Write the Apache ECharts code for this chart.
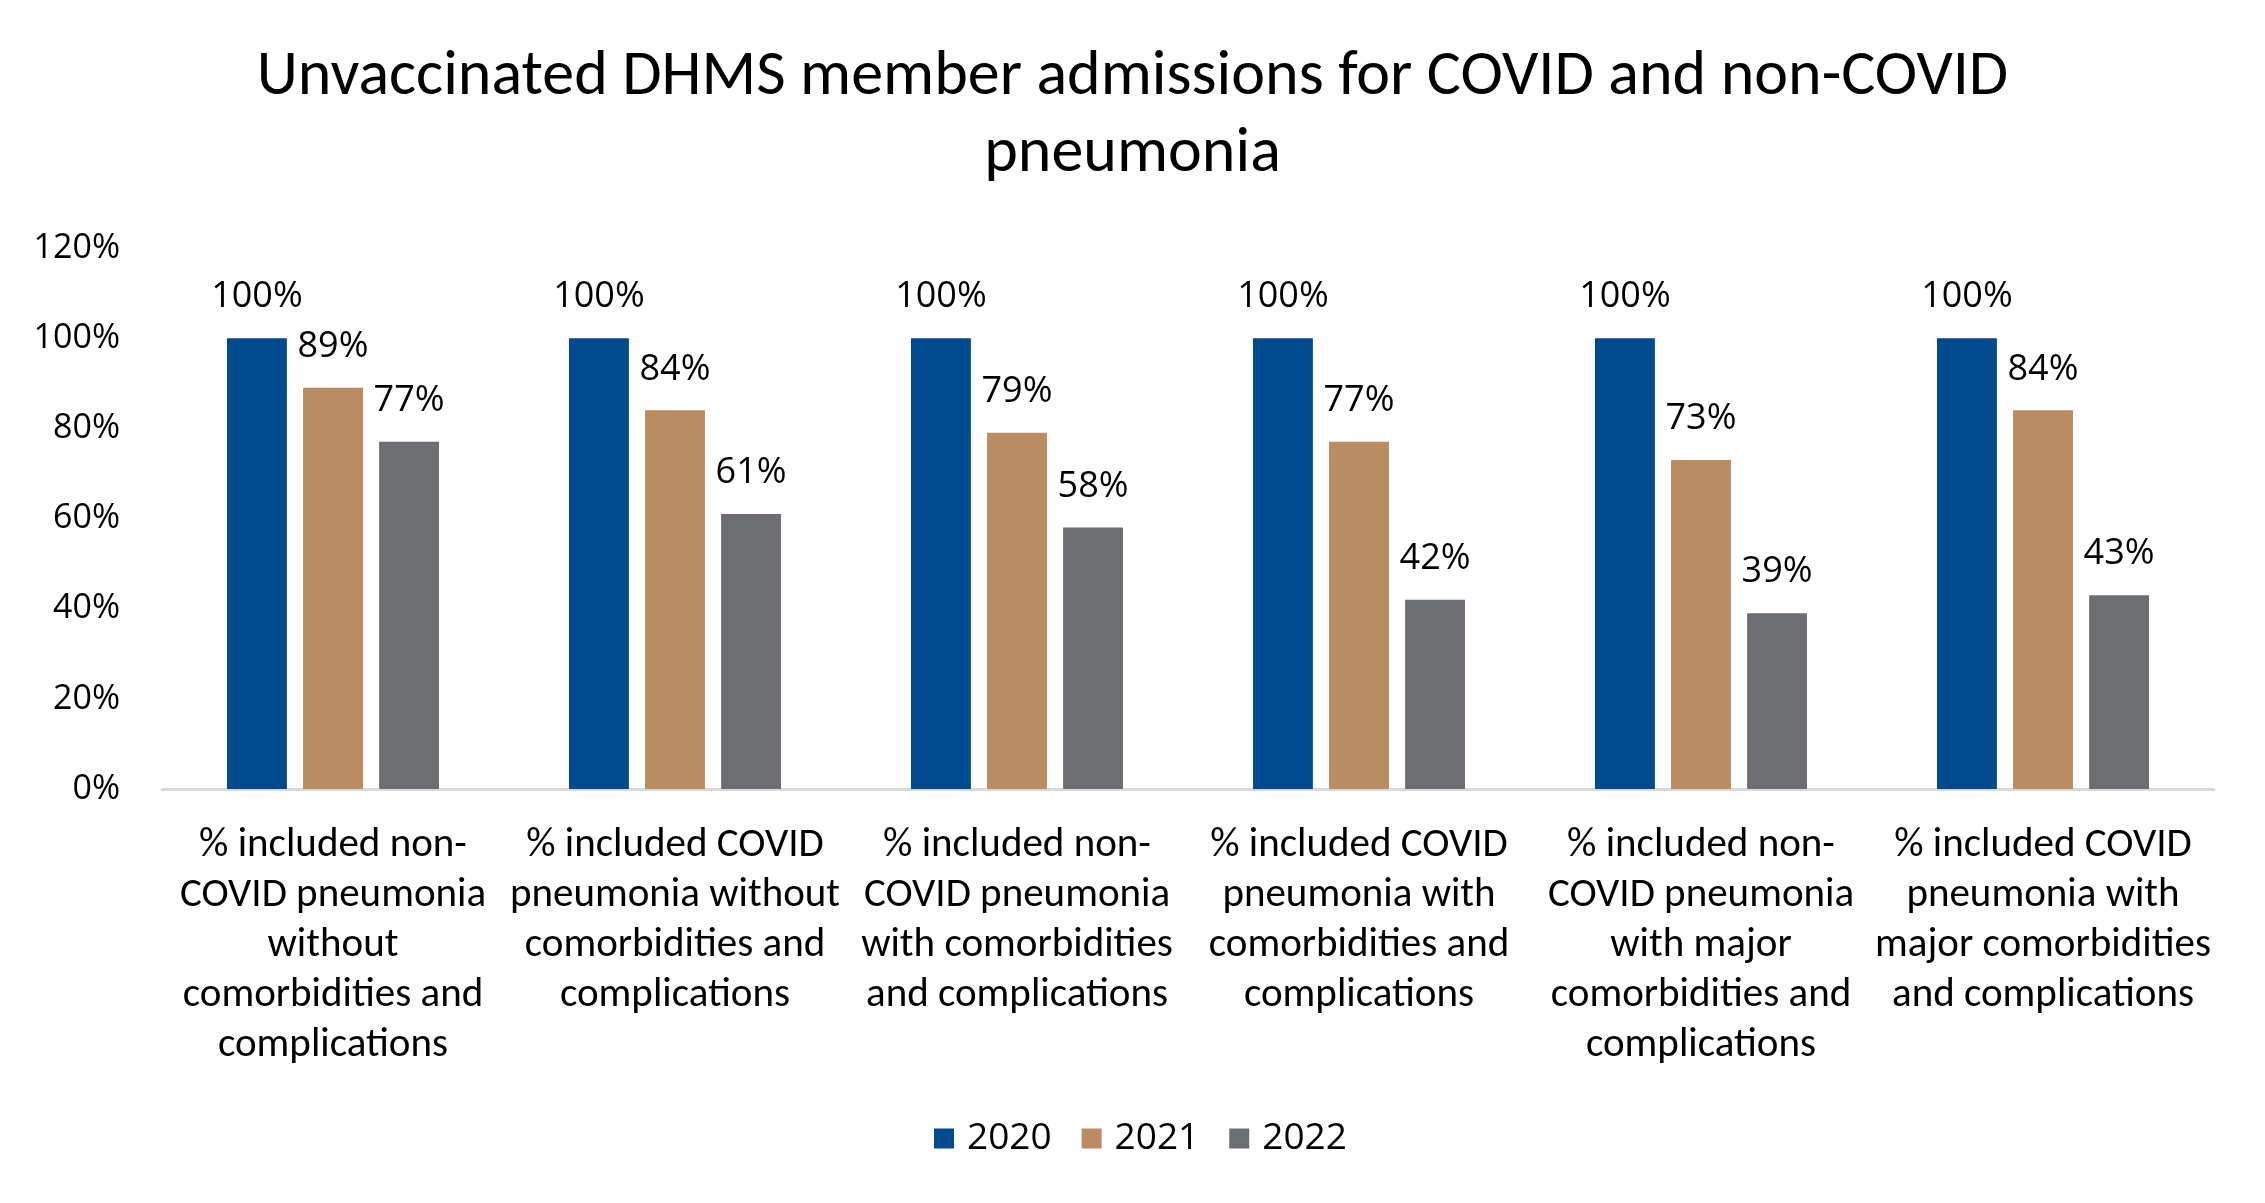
<!DOCTYPE html>
<html>
<head>
<meta charset="utf-8">
<script src="https://cdn.jsdelivr.net/npm/echarts@6/dist/echarts.min.js"></script>
<style>
html,body{margin:0;padding:0;background:#fff;}
#chart{width:2265px;height:1203px;}
</style>
</head>
<body>
<div id="chart"></div>
<script>
const titleText = "Unvaccinated DHMS member admissions for COVID and non-COVID\npneumonia";
const categories = [
  "% included non-\nCOVID pneumonia\nwithout\ncomorbidities and\ncomplications",
  "% included COVID\npneumonia without\ncomorbidities and\ncomplications",
  "% included non-\nCOVID pneumonia\nwith comorbidities\nand complications",
  "% included COVID\npneumonia with\ncomorbidities and\ncomplications",
  "% included non-\nCOVID pneumonia\nwith major\ncomorbidities and\ncomplications",
  "% included COVID\npneumonia with\nmajor comorbidities\nand complications"
];
const seriesNames = ["2020", "2021", "2022"];
const values2020 = [100, 100, 100, 100, 100, 100];
const values2021 = [89, 84, 79, 77, 73, 84];
const values2022 = [77, 61, 58, 42, 39, 43];
const colors = ["#004B8D", "#BA8C61", "#6D6E71"];
const yTicks = { min: 0, max: 120, interval: 20 };

const numFont = "'Open Sans', 'Noto Sans', sans-serif";
const textFont = "Carlito, Lato, 'Open Sans', sans-serif";

const chart = echarts.init(document.getElementById('chart'), null, {renderer: 'canvas'});
const allValues = [values2020, values2021, values2022];
const series = seriesNames.map((name, i) => ({
  name: name,
  type: 'bar',
  data: allValues[i],
  barGap: '27%',
  barCategoryGap: '38%',
  itemStyle: { color: colors[i] },
  label: {
    show: true,
    position: 'top',
    distance: 23,
    formatter: p => p.value + '%',
    fontFamily: numFont,
    fontSize: 36,
    color: '#000'
  }
}));

chart.setOption({
  animation: false,
  backgroundColor: '#fff',
  title: {
    text: titleText,
    left: 'center',
    top: 34,
    textStyle: {
      fontFamily: textFont,
      fontSize: 64,
      fontWeight: 'normal',
      color: '#000',
      lineHeight: 77
    }
  },
  legend: {
    data: seriesNames,
    bottom: 41,
    left: 929,
    itemWidth: 20,
    itemHeight: 20,
    itemGap: 30,
    icon: 'rect',
    textStyle: {
      fontFamily: numFont,
      fontSize: 37,
      color: '#000',
      padding: [0, 0, 0, 8]
    }
  },
  grid: { left: 162, right: 51, top: 248, bottom: 414, containLabel: false },
  xAxis: {
    type: 'category',
    data: categories,
    axisLine: { show: true, lineStyle: { color: '#D9D9D9', width: 3 } },
    axisTick: { show: false },
    axisLabel: {
      interval: 0,
      margin: 32,
      fontFamily: textFont,
      fontSize: 41,
      lineHeight: 50,
      color: '#000',
      align: 'center'
    }
  },
  yAxis: {
    type: 'value',
    min: yTicks.min,
    max: yTicks.max,
    interval: yTicks.interval,
    splitLine: { show: false },
    axisLine: { show: false },
    axisTick: { show: false },
    axisLabel: {
      formatter: v => v + '%',
      margin: 42,
      fontFamily: numFont,
      fontSize: 34,
      color: '#000'
    }
  },
  series: series
});
</script>
</body>
</html>
